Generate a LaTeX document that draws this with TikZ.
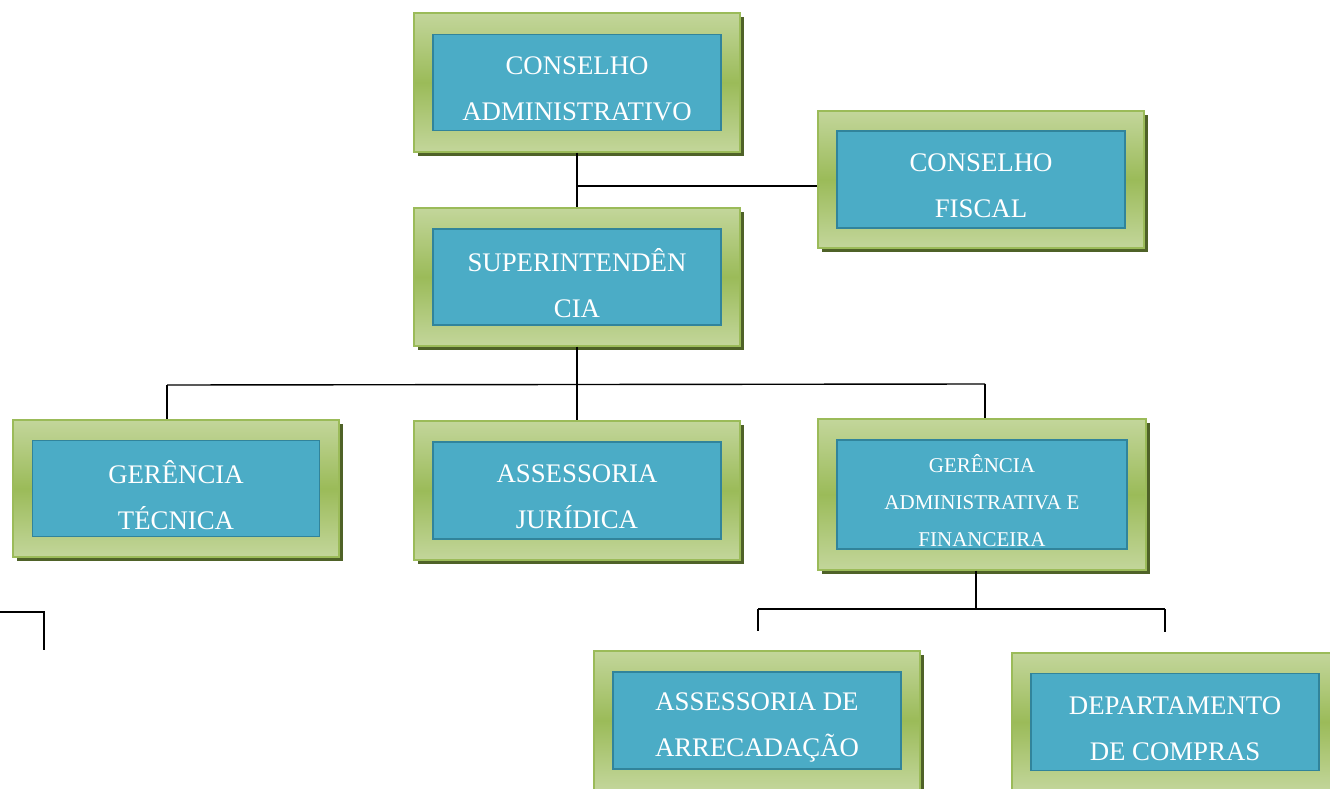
\documentclass[tikz,border=0pt]{standalone}
\usepackage{fontspec}
\setmainfont{Liberation Serif}
\definecolor{lgreen}{HTML}{C3D69B}
\definecolor{mgreen}{HTML}{9BBB59}
\definecolor{bgreen}{HTML}{9BBB59}
\definecolor{shadowc}{HTML}{4F6228}
\definecolor{bluefill}{HTML}{4BACC6}
\definecolor{blueline}{HTML}{31849B}
\tikzset{
  outerbox/.style={draw=bgreen, line width=1.2pt, top color=lgreen, bottom color=lgreen, middle color=mgreen, inner sep=0pt},
  innerbox/.style={draw=blueline, line width=1.2pt, fill=bluefill, inner sep=0pt},
  boxtext/.style={text=white, align=center, inner sep=0pt, font=\fontsize{26.8}{46}\selectfont},
  smalltext/.style={font=\fontsize{21}{37}\selectfont},
  conn/.style={draw=black, line width=1.4pt}
}
\newcommand\orgbox[9]{%
  \fill[shadowc] ({#2-#4/2+4},{#3-#5/2+4}) rectangle ({#2+#4/2+4},{#3+#5/2+4});
  \node[outerbox, minimum width=#4pt, minimum height=#5pt] (#1) at (#2,#3) {};
  \node[innerbox, minimum width=#6pt, minimum height=#7pt] (#1-in) at (#2,#3) {};
  \node[boxtext, #8] (#1-txt) at (#2,#3+6.5) {#9};
}
\begin{document}
\begin{tikzpicture}[x=1pt,y=-1pt]
\useasboundingbox (0,0) rectangle (1330,789);
\coordinate (j1) at (578,186);
\coordinate (b1) at (167,385);
\coordinate (b2) at (985,384);
\coordinate (c1) at (758,609);
\coordinate (c2) at (1165,609);
\coordinate (s1) at (0,612);
\coordinate (s2) at (44,612);
\coordinate (s3) at (44,650);
\coordinate (g1) at (976,609);
\orgbox{cadm}{577}{82.5}{326}{139}{288}{96}{}{CONSELHO\\ADMINISTRATIVO}
\orgbox{cfis}{981}{179.5}{326}{137}{288}{97}{}{CONSELHO\\FISCAL}
\orgbox{sup}{577}{277}{326}{138}{288}{96}{}{SUPERINTENDÊN\\CIA}
\orgbox{gt}{176}{488.5}{326}{137}{287}{96}{}{GERÊNCIA\\TÉCNICA}
\orgbox{aj}{577}{490.5}{326}{139}{288}{97}{}{ASSESSORIA\\JURÍDICA}
\orgbox{gaf}{982}{494.5}{328}{151}{290}{109}{smalltext}{GERÊNCIA\\ADMINISTRATIVA E\\FINANCEIRA}
\orgbox{aa}{757}{720.5}{326}{139}{288}{97}{}{ASSESSORIA DE\\ARRECADAÇÃO}
\orgbox{dc}{1175}{722}{326}{138}{288}{97}{}{DEPARTAMENTO\\DE COMPRAS}
\draw[conn] (cadm.south) -- (sup.north);
\draw[conn] (j1) -- (cfis.west |- j1);
\draw[conn] (sup.south) -- (aj.north);
\draw[conn] (b1) -- (b2);
\draw[conn] (b1) -- (b1 |- gt.north);
\draw[conn] (b2) -- (b2 |- gaf.north);
\draw[conn] (g1 |- gaf.south) -- (g1);
\draw[conn] (c1) -- (c2);
\draw[conn] (c1) -- ++(0,22);
\draw[conn] (c2) -- ++(0,23);
\draw[conn] (s1) -- (s2) -- (s3);
\end{tikzpicture}
\end{document}
